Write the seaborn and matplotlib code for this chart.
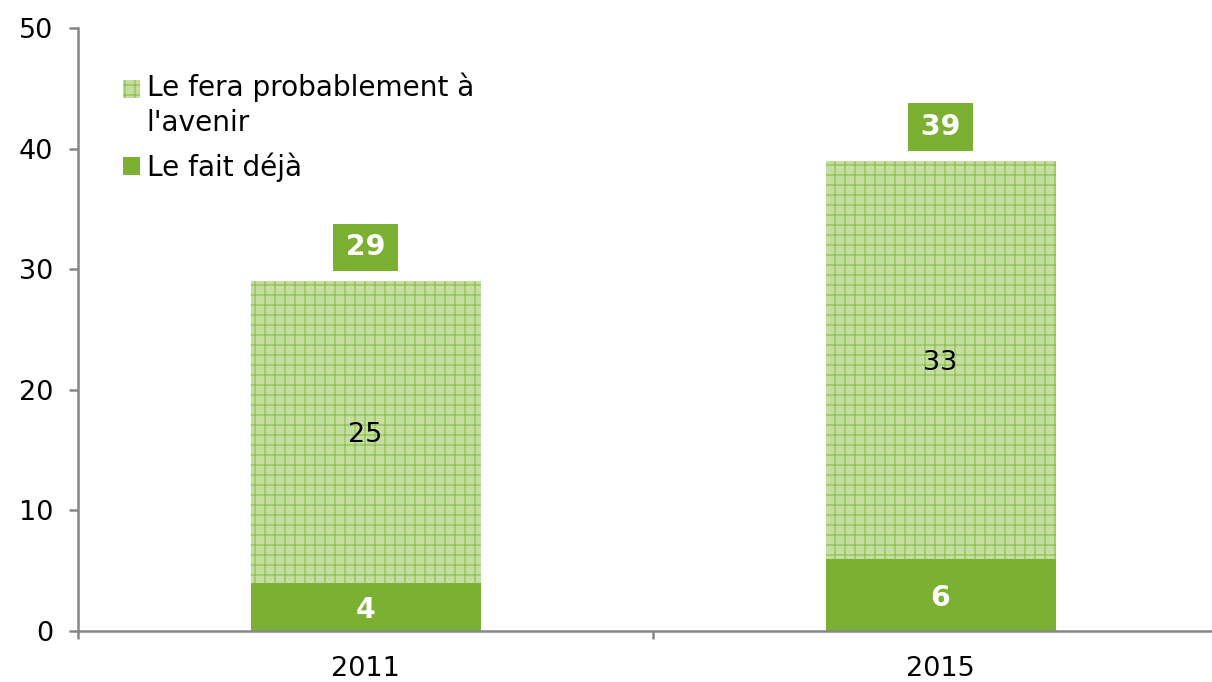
import matplotlib
matplotlib.use("Agg")
import matplotlib.pyplot as plt
import seaborn as sns
import pandas as pd
from matplotlib.patches import Patch, Rectangle
from matplotlib.legend_handler import HandlerPatch

# Data
years = ["2011", "2015"]
already = [4, 6]          # "Le fait déjà"
future = [25, 33]         # "Le fera probablement à l'avenir"
totals = [29, 39]

label_future = "Le fera probablement à\nl'avenir"
label_already = "Le fait déjà"

# Figure geometry
DPI = 120
W, H = 1212, 682
PT = 72 / DPI  # points per pixel

SOLID = "#7bb032"
LIGHT = "#c4de9f"
HATCH = "#8fc04f"
AXIS = "#868686"
FS = 27 * PT
FS_LEG = 28 * PT

sns.set_theme(style="white")
plt.rcParams["font.family"] = ["DejaVu Sans"]
plt.rcParams["text.color"] = "black"
plt.rcParams["hatch.linewidth"] = 1.2 * PT

df = pd.DataFrame({"year": years, "already": already,
                   "future": future, "total": totals})

fig = plt.figure(figsize=(W / DPI, H / DPI), dpi=DPI)
ax = fig.add_axes([78 / W, 51 / H, 1150 / W, 603 / H])

# Full stack height, hatched (upper segment shows through)
sns.barplot(data=df, x="year", y="total", order=years, width=0.4,
            color=LIGHT, saturation=1, edgecolor=HATCH, linewidth=0,
            hatch="++", ax=ax)
# Lower segment, solid
sns.barplot(data=df, x="year", y="already", order=years, width=0.4,
            color=SOLID, saturation=1, linewidth=0, ax=ax)

ax.set_xlim(-0.5, 1.5)
ax.set_ylim(0, 50)
ax.set_yticks(range(0, 51, 10))
ax.set_xlabel("")
ax.set_ylabel("")

for s in ("top", "right"):
    ax.spines[s].set_visible(False)
for s in ("left", "bottom"):
    ax.spines[s].set_color(AXIS)
    ax.spines[s].set_linewidth(2.5 * PT)

ax.tick_params(axis="y", direction="out", length=9 * PT, width=2.5 * PT,
               color=AXIS, labelsize=FS, labelcolor="black", pad=16 * PT, left=True)
ax.tick_params(axis="x", which="major", length=0, labelsize=FS,
               labelcolor="black", pad=25 * PT, bottom=True)
ax.set_xticks([-0.5, 0.5, 1.5], minor=True)
ax.tick_params(axis="x", which="minor", direction="out", length=8 * PT,
               width=2.5 * PT, color=AXIS, bottom=True)

# Value labels
for i, (a, f, t) in enumerate(zip(already, future, totals)):
    ax.text(i, a / 2, f"{a}", ha="center", va="center_baseline", color="white",
            fontsize=FS * 1.05, fontweight="bold")
    ax.text(i, a + f / 2, f"{f}", ha="center", va="center_baseline",
            color="black", fontsize=FS)
    ax.text(i, t + 2.8, f"\u200a{t}\u200a", ha="center", va="center",
            color="white", fontsize=FS * 1.05, fontweight="bold",
            bbox=dict(boxstyle="square,pad=0.34", fc=SOLID, ec="none"))


class TopAlignedPatch(HandlerPatch):
    """Square handle aligned with the first line of a wrapped label."""

    def __init__(self, shift, **kw):
        super().__init__(**kw)
        self.shift = shift

    def _create_patch(self, legend, orig_handle, xdescent, ydescent,
                      width, height, fontsize):
        return Rectangle((-xdescent, -ydescent + self.shift * fontsize),
                         width, height)


h_future = Patch(facecolor=LIGHT, edgecolor=HATCH, hatch="++", linewidth=0)
h_already = Patch(facecolor=SOLID, linewidth=0)
leg = ax.legend([h_future, h_already], [label_future, label_already],
                loc="upper left", bbox_to_anchor=(123 / W, 1 - 73 / H),
                bbox_transform=fig.transFigure, frameon=False, fontsize=FS_LEG,
                borderpad=0, borderaxespad=0, handlelength=0.6,
                handleheight=0.6, handletextpad=0.25, labelspacing=0.55,
                handler_map={h_future: TopAlignedPatch(0.61),
                             h_already: HandlerPatch()})
for t in leg.get_texts():
    t.set_linespacing(1.3)

fig.savefig("out.png", dpi=DPI)
